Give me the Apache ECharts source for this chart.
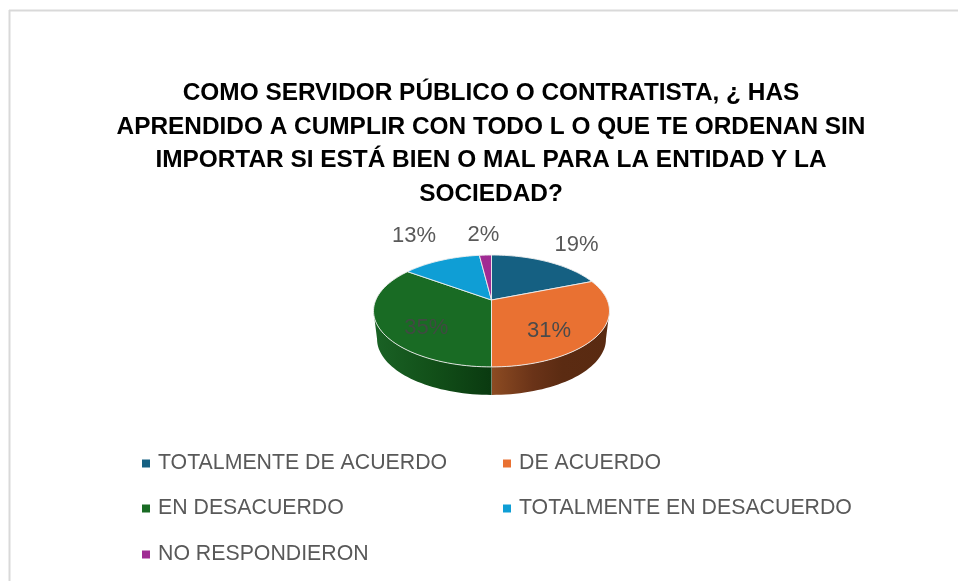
<!DOCTYPE html>
<html>
<head>
<meta charset="utf-8">
<style>html,body{margin:0;padding:0;background:#fff}#c{width:958px;height:581px}</style>
<script src="https://cdn.jsdelivr.net/npm/echarts@6/dist/echarts.min.js"></script>
</head>
<body>
<div id="c"></div>
<script>
const categories = ['TOTALMENTE DE ACUERDO','DE ACUERDO','EN DESACUERDO','TOTALMENTE EN DESACUERDO','NO RESPONDIERON'];
const values = [19,31,35,13,2];
const colors = ['#156082','#E97132','#196B24','#0F9ED5','#A02B93'];
const titleText = 'COMO SERVIDOR PÚBLICO O CONTRATISTA, ¿ HAS\nAPRENDIDO A CUMPLIR CON TODO L O QUE TE ORDENAN SIN\nIMPORTAR SI ESTÁ BIEN O MAL PARA LA ENTIDAD Y LA\nSOCIEDAD?';

// pie geometry: perspective projection of a tilted disc
const cx = 491.5, cy = 300, k = 115.7, persp = 0.196, backDepth = 53.8, depth = 28, bottomScale = 0.97;
const labelNudge = [[29,-17],[-50,-3],[48,1],[-27,-24],[-2,-20]];
const labelFill = ['#595959','#4a4a4a','#404a42','#595959','#595959'];
const total = values.reduce((a,b)=>a+b,0);
const rad = d => d*Math.PI/180;
function project(deg){
  const u=Math.sin(rad(deg)), v=Math.cos(rad(deg)), w=1+persp*v;
  return [cx+k*u/w, cy-backDepth*v/w];
}
function arc(a,b){
  const pts=[], n=Math.max(2,Math.ceil(Math.abs(b-a)/2));
  for(let i=0;i<=n;i++) pts.push(project(a+(b-a)*i/n));
  return pts;
}
const frontStart = Math.acos(-persp)*180/Math.PI, frontEnd = 360-frontStart;
const sideFill = [null,
  new echarts.graphic.LinearGradient(492,0,609,0,[{offset:0,color:'#8c4b22'},{offset:.35,color:'#6a3318'},{offset:.6,color:'#5b2b12'},{offset:1,color:'#592a11'}],true),
  new echarts.graphic.LinearGradient(373,0,491,0,[{offset:0,color:'#1a6225'},{offset:.5,color:'#125019'},{offset:1,color:'#0a3a10'}],true),
  null,null];

function renderSlice(idx){
  return function(params, api){
    const before = values.slice(0,idx).reduce((a,b)=>a+b,0);
    const a0 = before/total*360, a1 = a0+api.value(0)/total*360;
    const children=[];
    const fa=Math.max(a0,frontStart), fb=Math.min(a1,frontEnd);
    if(fb>fa){
      const top=arc(fa,fb), bottom=top.map(p=>[cx+(p[0]-cx)*bottomScale,p[1]+depth]).reverse();
      children.push({type:'polygon',shape:{points:top.concat(bottom)},
        style:{fill:sideFill[idx],stroke:null}});
      if(a1<=frontEnd){
        const e=project(a1);
        children.push({type:'line',shape:{x1:e[0],y1:e[1],x2:e[0],y2:e[1]+depth},
          style:{stroke:'#d8d8d8',lineWidth:1}});
      }
    }
    children.push({type:'polygon',shape:{points:[[cx,cy]].concat(arc(a0,a1))},
      style:{fill:colors[idx],stroke:'#eeeeee',lineWidth:0.9,lineJoin:'round'}});
    const m=project((a0+a1)/2), n=labelNudge[idx];
    children.push({type:'text',z2:10,style:{text:api.value(0)+'%',x:m[0]+n[0],y:m[1]+n[1],
      align:'center',verticalAlign:'middle',fill:labelFill[idx],
      font:'22px "Liberation Sans", sans-serif'}});
    return {type:'group',children};
  };
}

const legendPos = [[142,453],[503,453],[142,498],[503,498],[142,544]];
const chart = echarts.init(document.getElementById('c'),null,{renderer:'canvas'});
chart.setOption({
  animation:false,
  backgroundColor:'#ffffff',
  title:{text:titleText,left:491,top:76.5,padding:0,textAlign:'center',
    textStyle:{color:'#000',fontWeight:'bold',fontSize:24.4,lineHeight:33.7,fontFamily:'"Liberation Sans", sans-serif'}},
  legend:categories.map((c,i)=>({data:[{name:c,icon:'rect'}],left:legendPos[i][0],top:legendPos[i][1],
    itemWidth:8,itemHeight:8,itemGap:0,padding:0,selectedMode:false,
    textStyle:{color:'#595959',fontSize:21.3,padding:[2,0,0,3],fontFamily:'"Liberation Sans", sans-serif'}})),
  graphic:[
    {type:'line',silent:true,shape:{x1:9,y1:10.5,x2:958,y2:10.5},style:{stroke:'#d9d9d9',lineWidth:2}},
    {type:'line',silent:true,shape:{x1:9.5,y1:10,x2:9.5,y2:581},style:{stroke:'#d9d9d9',lineWidth:2}}
  ],
  series:categories.map((c,i)=>({
    type:'custom',name:c,coordinateSystem:'none',silent:true,
    itemStyle:{color:colors[i]},
    data:[values[i]],
    renderItem:renderSlice(i)
  }))
});
</script>
</body>
</html>
